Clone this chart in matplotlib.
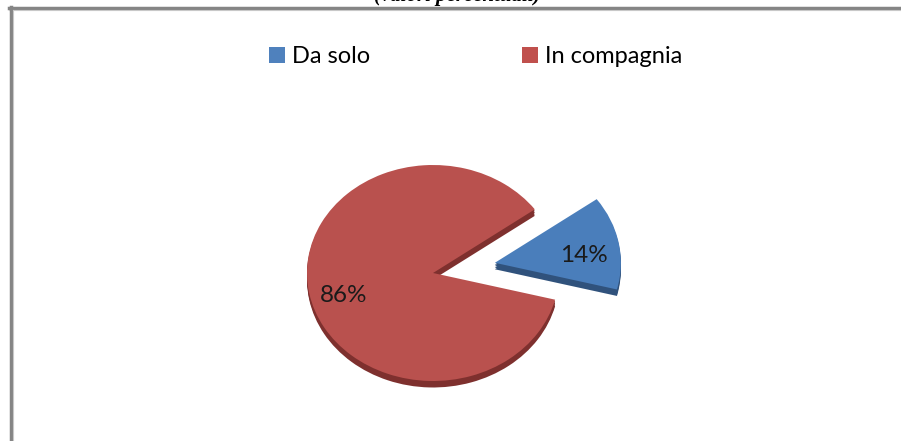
import matplotlib.pyplot as plt
from matplotlib.lines import Line2D
from matplotlib.patches import Patch

# dati del grafico
categorie = ["Da solo", "In compagnia"]
valori = [14, 86]
colori = ["#4A7EBB", "#B9514E"]
colori_bordo = ["#30527C", "#7E302E"]
esplodi = [0.5, 0.0]

plt.rcParams['font.family'] = ['Lato', 'DejaVu Sans']

fig = plt.figure(figsize=(9.01, 4.41), dpi=100)
ax = fig.add_axes([0, 0, 1, 1])

# spessore "3D": copia scura della torta spostata in basso
spessore = 0.06
for i in range(4):
    ax.pie(valori, explode=esplodi, colors=colori_bordo, startangle=-14.3,
           center=(0, -spessore * (4 - i) / 4), counterclock=True,
           wedgeprops=dict(linewidth=0))

wedges, testi, pct = ax.pie(valori, explode=esplodi, colors=colori, startangle=-14.3,
                            autopct='%1.0f%%', pctdistance=0.72, counterclock=True,
                            wedgeprops=dict(linewidth=0),
                            textprops=dict(fontsize=17.5, color="#1a1a1a"))
# etichette un po' piu' in basso
for t in pct:
    x, y = t.get_position()
    t.set_position((x, y - 0.07))

# schiaccio la torta in un'ellisse
ax.set_aspect('auto')
ax.set_xlim(-433 / 126, (901 - 433) / 126)
ax.set_ylim(-168 / 108, 273 / 108)
ax.axis('off')

# legenda in alto
maniglie = [Patch(facecolor=c, edgecolor='none') for c in ["#4F81BD", "#C0504D"]]
fig.legend(maniglie, categorie, loc='center', bbox_to_anchor=(0.528, 0.871), ncol=2,
           frameon=False, fontsize=17, handlelength=0.65, handleheight=0.65,
           handletextpad=0.3, columnspacing=6.45)

# titolo tagliato in alto
fig.text(0.508, 1 - 1 / 441, "(valori percentuali)", ha='center', va='baseline',
         fontsize=15, style='italic', weight='bold', family='Liberation Serif')

# cornice del grafico
fig.add_artist(Line2D([9 / 901, 1], [1 - 7.5 / 441] * 2, color="#858585", lw=2.5,
                      transform=fig.transFigure))
fig.add_artist(Line2D([9 / 901, 1], [1 - 9.8 / 441] * 2, color="#c8c8c8", lw=0.8,
                      transform=fig.transFigure))
fig.add_artist(Line2D([11 / 901] * 2, [0, 1 - 6.5 / 441], color="#858585", lw=2.5,
                      transform=fig.transFigure))
fig.add_artist(Line2D([13.3 / 901] * 2, [0, 1 - 9.8 / 441], color="#c8c8c8", lw=0.8,
                      transform=fig.transFigure))

fig.savefig("out.png", dpi=100)
